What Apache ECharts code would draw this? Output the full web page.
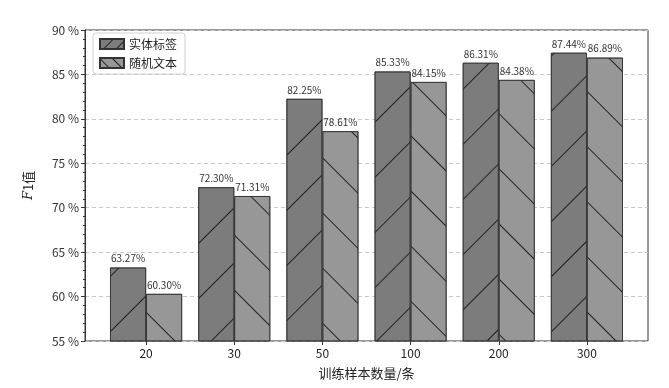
<!DOCTYPE html>
<html>
<head>
<meta charset="utf-8">
<script src="https://cdn.jsdelivr.net/npm/echarts@6/dist/echarts.min.js"></script>
<style>html,body{margin:0;padding:0;background:#fff;}#c{width:669px;height:388px;}</style>
</head>
<body>
<div id="c"></div>
<script>
var categories = ['20', '30', '50', '100', '200', '300'];
var entityLabel = [63.27, 72.30, 82.25, 85.33, 86.31, 87.44];
var randomText = [60.30, 71.31, 78.61, 84.15, 84.38, 86.89];
var seriesNames = ['实体标签', '随机文本'];

var FONT = '"Noto Sans CJK SC", "Noto Sans", sans-serif';
var chart = echarts.init(document.getElementById('c'));
function hatch(rot, gap) {
  return { symbol: 'rect', symbolSize: 1, dashArrayX: [[1, 0]], dashArrayY: [0.8, gap], rotation: rot, color: '#222' };
}
function lbl() {
  return { show: true, position: 'top', distance: 4, fontSize: 10, color: '#333', fontFamily: FONT,
    formatter: function (p) { return p.value.toFixed(2) + '%'; } };
}
chart.setOption({
  animation: false,
  aria: { enabled: true, decal: { show: true } },
  textStyle: { fontFamily: FONT },
  grid: [
    { left: 85, right: 21, top: 30, bottom: 47, show: true, borderColor: '#333', borderWidth: 1, backgroundColor: 'transparent' },
    { left: 102, right: 38, top: 30, bottom: 47, show: false }
  ],
  legend: {
    left: 93, top: 33, orient: 'vertical', itemWidth: 24, itemHeight: 10, itemGap: 7,
    padding: [5, 8, 5, 6], borderColor: '#d0d0d0', borderWidth: 1, borderRadius: 3, backgroundColor: 'rgba(255,255,255,0.85)',
    textStyle: { fontSize: 12, color: '#222', fontFamily: FONT },
    data: [
      { name: seriesNames[0], icon: 'rect', itemStyle: { decal: hatch(-Math.PI / 4, 8) } },
      { name: seriesNames[1], icon: 'rect', itemStyle: { decal: hatch(Math.PI / 4, 8) } }
    ]
  },
  xAxis: [
    { type: 'value', gridIndex: 0, show: false, min: 0, max: 1 },
    {
      type: 'category', gridIndex: 1, data: categories,
      name: '训练样本数量/条', nameLocation: 'middle', nameGap: 26,
      nameTextStyle: { fontSize: 13, color: '#222', fontFamily: FONT },
      axisLine: { show: false },
      axisTick: { show: true, alignWithLabel: true, length: 4, lineStyle: { color: '#333' } },
      axisLabel: { fontSize: 12, color: '#222', margin: 6 },
      splitLine: { show: false }
    }
  ],
  yAxis: [
    {
      type: 'value', gridIndex: 0, min: 55, max: 90, interval: 5,
      name: '{i|F}1值', nameLocation: 'middle', nameGap: 50,
      nameTextStyle: { fontSize: 13, color: '#222', fontFamily: FONT,
        rich: { i: { fontStyle: 'italic', fontSize: 13, fontFamily: 'DejaVu Serif', color: '#222' } } },
      axisLine: { show: true, lineStyle: { color: '#333' } },
      axisTick: { show: true, length: 4, lineStyle: { color: '#333' } },
      minorTick: { show: true, splitNumber: 5, length: 2, lineStyle: { color: '#333' } },
      axisLabel: { fontSize: 12, color: '#333', margin: 6, formatter: '{value} %' },
      splitLine: { show: true, lineStyle: { color: '#c8c8c8', type: [4, 3] } }
    },
    { type: 'value', gridIndex: 1, min: 55, max: 90, interval: 5, show: false, splitLine: { show: false } }
  ],
  series: [
    { name: seriesNames[0], type: 'bar', xAxisIndex: 1, yAxisIndex: 1, data: entityLabel, barGap: '0%', barWidth: 36,
      itemStyle: { color: '#7c7c7c', borderColor: '#333', borderWidth: 0.8, decal: hatch(-Math.PI / 4, 38) },
      label: lbl() },
    { name: seriesNames[1], type: 'bar', xAxisIndex: 1, yAxisIndex: 1, data: randomText, barGap: '0%', barWidth: 36,
      itemStyle: { color: '#979797', borderColor: '#333', borderWidth: 0.8, decal: hatch(Math.PI / 4, 38) },
      label: lbl() }
  ]
});
</script>
</body>
</html>
